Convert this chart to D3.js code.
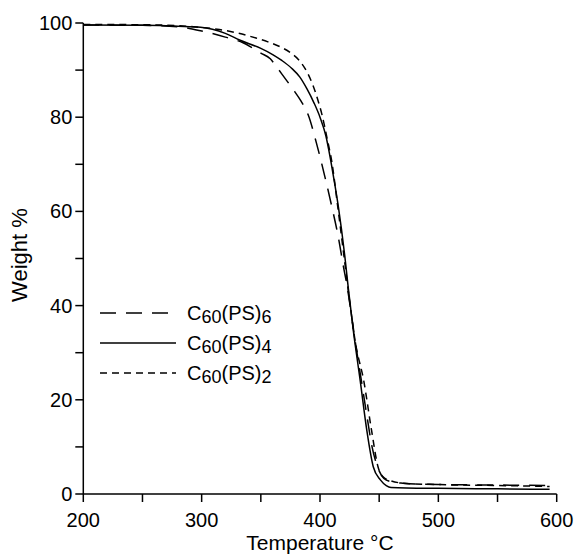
<!DOCTYPE html>
<html>
<head>
<meta charset="utf-8">
<script src="https://cdn.jsdelivr.net/npm/d3@7"></script>
<style>
  body { margin: 0; background: #fff; }
  svg { display: block; }
  text { font-family: "Liberation Sans", Arial, sans-serif; fill: #000; }
</style>
</head>
<body>
<svg id="chart" width="577" height="555"></svg>
<script>
// Data
const tempPS6 = [200, 250, 280, 300, 320, 335, 341, 350, 358, 363, 370, 377, 384, 390, 397, 404, 410, 415.5, 420, 423, 426, 430, 435, 440, 444, 449, 454, 460, 470, 500, 550, 594];
const weightPS6 = [99.6, 99.5, 99.2, 98.3, 97.0, 95.8, 95.0, 93.6, 92.4, 90.8, 88.4, 86.0, 83.4, 80.5, 74.5, 67.5, 61.0, 54.5, 48.0, 44.0, 39.0, 32.0, 24.0, 16.0, 10.0, 5.5, 3.3, 2.6, 2.3, 2.0, 1.9, 1.8];

const tempPS4 = [200, 250, 280, 299, 320, 332, 350, 360, 368, 376, 383, 389, 395, 400, 405, 408.5, 412, 415.5, 421, 424, 428, 434, 439.5, 445, 451, 456, 460, 500, 550, 594];
const weightPS4 = [99.6, 99.5, 99.3, 99.1, 97.8, 96.4, 94.6, 93.3, 92.0, 90.4, 88.5, 86.0, 83.0, 80.0, 76.0, 71.6, 66.5, 61.0, 50.4, 43.5, 35.0, 24.0, 13.6, 5.8, 3.0, 1.8, 1.4, 1.2, 1.1, 1.0];

const tempPS2 = [200, 260, 298, 315, 330, 346, 356, 366, 375, 383, 389, 394, 398, 402, 406, 410, 415, 420, 425, 430, 437, 443.5, 449, 454, 460, 470, 500, 550, 594];
const weightPS2 = [99.7, 99.6, 99.1, 98.6, 97.9, 96.8, 96.0, 95.0, 93.7, 91.9, 89.6, 86.8, 83.8, 80.2, 75.5, 70.5, 61.0, 51.0, 41.0, 32.0, 24.0, 13.6, 5.8, 3.5, 2.8, 2.3, 2.0, 1.8, 1.6];

const seriesNames = ["6", "4", "2"];
const xTicks = [200, 300, 400, 500, 600];
const xMinorTicks = [250, 350, 450, 550];
const yTicks = [0, 20, 40, 60, 80, 100];
const yMinorTicks = [10, 30, 50, 70, 90];

const series = [
  { sub: seriesNames[0], t: tempPS6, w: weightPS6, dash: "16,10" },
  { sub: seriesNames[1], t: tempPS4, w: weightPS4, dash: null },
  { sub: seriesNames[2], t: tempPS2, w: weightPS2, dash: "7,5" }
];

const svg = d3.select("#chart");
const x = d3.scaleLinear().domain([200, 600]).range([83.3, 556.7]);
const y = d3.scaleLinear().domain([0, 100]).range([494, 23]);

// X axis
const gx = svg.append("g").attr("transform", `translate(0,${y(0)})`);
gx.append("line").attr("x1", x(200)).attr("x2", x(600)).attr("stroke", "#000").attr("stroke-width", 1.5);
gx.selectAll("line.tk").data(xTicks.concat(xMinorTicks)).enter().append("line")
  .attr("class", "tk").attr("x1", d => x(d)).attr("x2", d => x(d)).attr("y1", 0).attr("y2", 8)
  .attr("stroke", "#000").attr("stroke-width", 1.5);
gx.selectAll("text").data(xTicks).enter().append("text")
  .attr("x", d => x(d)).attr("y", 33).attr("text-anchor", "middle")
  .style("font-size", "20px").text(d => d);

// Y axis
const gy = svg.append("g").attr("transform", `translate(${x(200)},0)`);
gy.append("line").attr("y1", y(0)).attr("y2", y(100)).attr("stroke", "#000").attr("stroke-width", 1.5);
gy.selectAll("line.tk").data(yTicks.concat(yMinorTicks)).enter().append("line")
  .attr("class", "tk").attr("y1", d => y(d)).attr("y2", d => y(d)).attr("x1", 0).attr("x2", -8)
  .attr("stroke", "#000").attr("stroke-width", 1.5);
gy.selectAll("text").data(yTicks).enter().append("text")
  .attr("x", -11).attr("y", d => y(d) + 7).attr("text-anchor", "end")
  .style("font-size", "20px").text(d => d);

// Axis titles
svg.append("text").attr("x", x(400)).attr("y", 550).attr("text-anchor", "middle")
  .style("font-size", "21px").text("Temperature \u00B0C");
svg.append("text").attr("transform", `translate(27,255) rotate(-90)`)
  .attr("text-anchor", "middle").style("font-size", "22px").text("Weight %");

// Curves
const line = d3.line().x(d => x(d[0])).y(d => y(d[1])).curve(d3.curveMonotoneX);
series.forEach(s => {
  const pts = s.t.map((t, i) => [t, s.w[i]]);
  svg.append("path").datum(pts).attr("d", line)
    .attr("fill", "none").attr("stroke", "#000").attr("stroke-width", 1.5)
    .attr("stroke-dasharray", s.dash);
});

// Legend
const legY = [313, 343, 373];
series.forEach((s, i) => {
  svg.append("line").attr("x1", 100).attr("x2", 176).attr("y1", legY[i]).attr("y2", legY[i])
    .attr("stroke", "#000").attr("stroke-width", 1.5).attr("stroke-dasharray", s.dash);
  const t = svg.append("text").attr("x", 187).attr("y", legY[i] + 7).style("font-size", "20px");
  t.append("tspan").text("C");
  t.append("tspan").attr("dy", 3).style("font-size", "18px").text("60");
  t.append("tspan").attr("dy", -3).text("(PS)");
  t.append("tspan").attr("dy", 3).style("font-size", "18px").text(s.sub);
});
</script>
</body>
</html>
